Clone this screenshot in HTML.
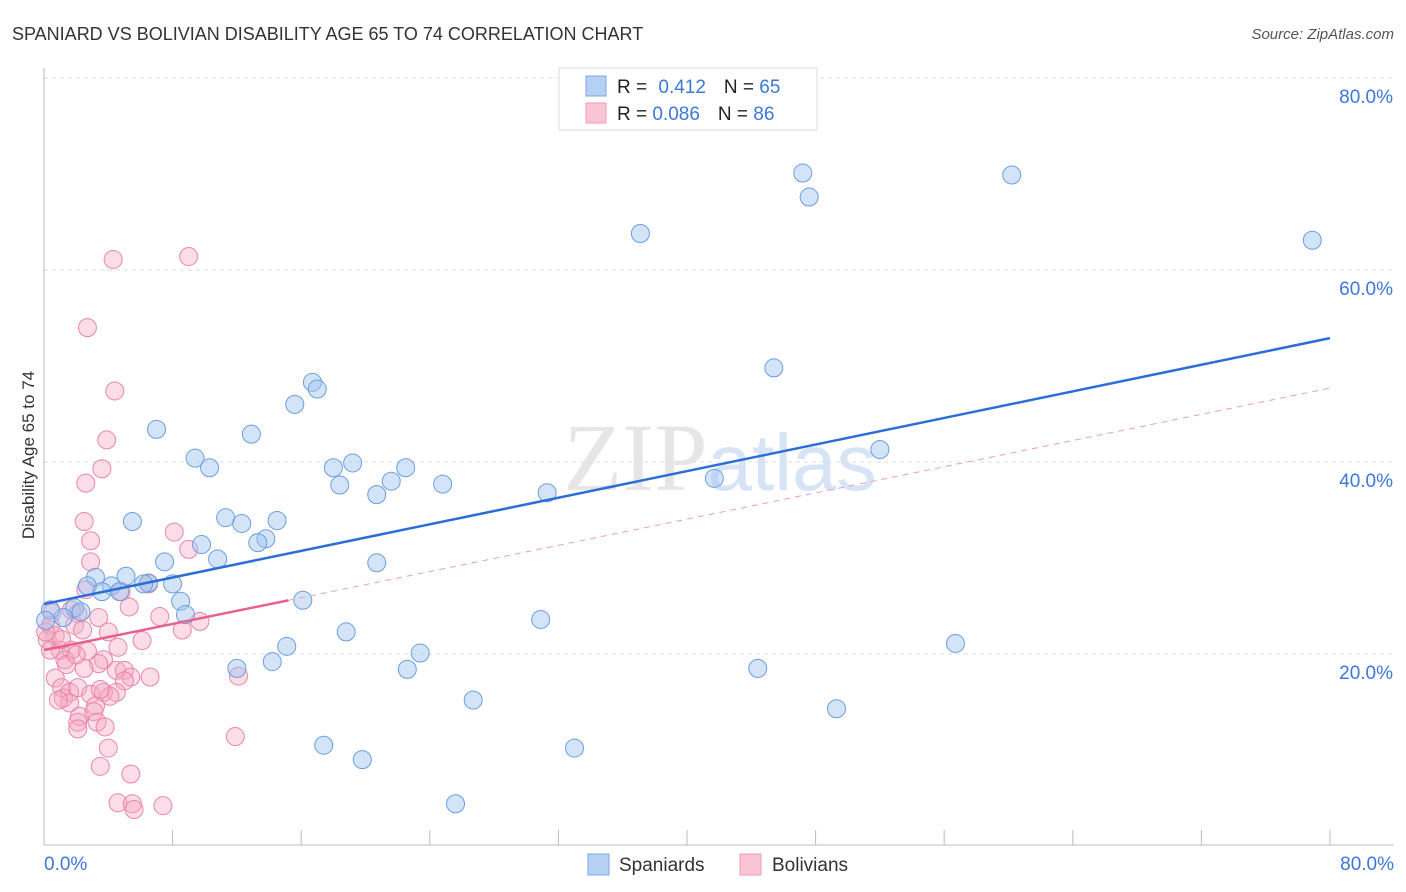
<!DOCTYPE html>
<html><head><meta charset="utf-8"><style>
body{margin:0;background:#fff;font-family:"Liberation Sans",sans-serif}
svg{display:block}
</style></head><body>
<svg id="c" width="1406" height="892">
<text x="12" y="40" font-size="18" fill="#333">SPANIARD VS BOLIVIAN DISABILITY AGE 65 TO 74 CORRELATION CHART</text>
<text x="1394" y="39" font-size="15" fill="#555" text-anchor="end" font-style="italic">Source: ZipAtlas.com</text>
<text x="720" y="490" font-size="96" fill="#e6e6e6" text-anchor="middle" font-family="Liberation Serif">ZIP<tspan fill="#d6e4f5" font-family="Liberation Sans" font-size="80">atlas</tspan></text>
<text transform="translate(34,455) rotate(-90)" font-size="17" fill="#333" text-anchor="middle">Disability Age 65 to 74</text>
<g id="grid"></g><g id="marks"></g>
<g>
<rect x="559" y="68" width="258" height="62" fill="#fff" stroke="#ddd"/>
<rect x="586" y="76" width="20" height="20" fill="#b7d1f3" stroke="#7aa7e3"/>
<rect x="586" y="103" width="20" height="20" fill="#f9c5d5" stroke="#ef9ab5"/>
<text x="617" y="93" font-size="19" fill="#222">R = <tspan fill="#3b78d8" dx="6">0.412</tspan><tspan dx="18" fill="#222">N = </tspan><tspan fill="#3b78d8">65</tspan></text>
<text x="617" y="120" font-size="19" fill="#222">R = <tspan fill="#3b78d8">0.086</tspan><tspan dx="18" fill="#222">N = </tspan><tspan fill="#3b78d8">86</tspan></text>
</g>
<g>
<rect x="588" y="854" width="21" height="21" fill="#b7d1f3" stroke="#7aa7e3"/>
<text x="619" y="871" font-size="19" fill="#333">Spaniards</text>
<rect x="740" y="854" width="21" height="21" fill="#f9c5d5" stroke="#ef9ab5"/>
<text x="772" y="871" font-size="19" fill="#333">Bolivians</text>
</g>
</svg>
<script>
const yTicks=[20,40,60,80];
const xTickLabels=["0.0%","80.0%"];
const blueX=[47.2,47.6,60.2,37.1,78.9,45.4,16.7,17.0,15.6,7.0,12.9,52.0,9.4,10.3,18.0,19.2,18.4,21.6,22.5,20.7,24.8,31.3,41.7,11.3,12.3,5.5,14.5,13.8,13.3,9.8,10.8,7.5,20.7,5.1,3.2,2.7,4.2,6.5,8.0,4.7,3.6,6.2,8.5,8.8,16.1,1.9,2.3,1.2,0.4,0.1,30.9,18.8,56.7,15.1,23.4,12.0,14.2,22.6,44.4,26.7,49.3,17.4,33.0,19.8,25.6];
const blueY=[70.1,67.6,69.9,63.8,63.1,49.8,48.3,47.6,46.0,43.4,42.9,41.3,40.4,39.4,39.4,39.9,37.6,38.0,39.4,36.6,37.7,36.8,38.3,34.2,33.6,33.8,33.9,32.0,31.6,31.4,29.9,29.6,29.5,28.1,28.0,27.1,27.1,27.4,27.3,26.5,26.5,27.3,25.5,24.1,25.6,24.8,24.4,23.8,24.6,23.5,23.6,22.3,21.1,20.8,20.1,18.5,19.2,18.4,18.5,15.2,14.3,10.5,10.2,9.0,4.4];
const pinkX=[4.3,9.0,2.7,4.4,3.9,3.6,2.6,2.5,8.1,9.0,2.9,2.9,2.6,4.8,6.5,5.3,7.2,9.7,3.4,8.6,4.0,2.1,0.5,0.4,0.7,0.2,1.0,1.7,2.7,3.7,1.3,6.1,4.6,1.9,0.7,1.1,1.6,2.1,3.4,2.5,4.5,5.0,5.4,6.6,12.1,5.0,1.2,1.6,2.9,3.7,4.5,2.2,2.1,3.2,4.1,3.1,3.3,3.8,2.1,4.0,11.9,3.5,5.4,4.6,5.5,7.4,5.6,3.5,1.4,2.0,0.9,0.4,0.1,1.1,2.4,1.7];
const pinkY=[61.1,61.4,54.0,47.4,42.3,39.3,37.8,33.8,32.7,30.9,31.8,29.6,26.7,26.5,27.3,24.9,23.9,23.4,23.8,22.5,22.3,24.2,24.3,23.0,21.9,21.5,20.4,20.4,20.3,19.4,19.4,21.4,20.7,23.0,17.5,16.5,16.0,16.5,19.0,18.5,18.3,18.3,17.6,17.6,17.7,17.2,15.4,14.9,15.8,16.0,16.0,13.5,12.9,14.6,15.6,14.0,12.9,12.4,12.2,10.2,11.4,8.3,7.5,4.5,4.4,4.2,3.8,16.3,18.9,19.9,15.2,20.4,22.3,21.5,22.5,24.6];
const blueTrend=[25.2,52.9];
const pinkTrend=[20.4,47.7];
const pinkSolidEnd=15.2;
const X=v=>44+v*16.075, Y=v=>846-v*9.6;
const NS="http://www.w3.org/2000/svg";
function mk(t,a,p){const e=document.createElementNS(NS,t);for(const k in a)e.setAttribute(k,a[k]);p.appendChild(e);return e;}
const g=document.getElementById('grid'), m=document.getElementById('marks');
yTicks.forEach(v=>{
 const l=mk('line',{x1:44,x2:1394,y1:Y(v),y2:Y(v),stroke:'#ddd','stroke-dasharray':'4,4'},g);
 
 
 const t=mk('text',{x:1393,y:Y(v)+25,'font-size':19,fill:'#3b78d8','text-anchor':'end'},g);
 t.textContent=v.toFixed(1)+'%';
 
 
});
const ax=mk('line',{x1:44,x2:1394,y1:845,y2:845,stroke:'#bbb'},g);


const ay=mk('line',{x1:44,x2:44,y1:68,y2:845,stroke:'#bbb'},g);


for(let i=1;i<=10;i++){const t=mk('line',{x1:X(i*8),x2:X(i*8),y1:830,y2:845,stroke:'#bbb'},g);
 
 }
[[0,'start',44],[80,'end',1394]].forEach((d,i)=>{const t=mk('text',{x:d[2],y:870,'font-size':19,fill:'#3b78d8','text-anchor':d[1]},g);t.textContent=xTickLabels[i];
 
 });
pinkX.forEach((x,i)=>{const c=mk('circle',{cx:X(x),cy:Y(pinkY[i]),r:9,fill:'rgba(246,168,195,0.4)',stroke:'#ea86a8','stroke-width':1},m);
 
 });
blueX.forEach((x,i)=>{const c=mk('circle',{cx:X(x),cy:Y(blueY[i]),r:9,fill:'rgba(160,196,240,0.45)',stroke:'#6a9ee0','stroke-width':1},m);
 
 });
const pk=v=>pinkTrend[0]+(pinkTrend[1]-pinkTrend[0])*v/80;
const pd=mk('line',{x1:X(pinkSolidEnd),y1:Y(pk(pinkSolidEnd)),x2:X(80),y2:Y(pinkTrend[1]),stroke:'#eaa0b8','stroke-width':1,'stroke-dasharray':'6,5'},m);


const ps=mk('line',{x1:X(0),y1:Y(pinkTrend[0]),x2:X(pinkSolidEnd),y2:Y(pk(pinkSolidEnd)),stroke:'#e8608e','stroke-width':2.5},m);


const bl=mk('line',{x1:X(0),y1:Y(blueTrend[0]),x2:X(80),y2:Y(blueTrend[1]),stroke:'#2b6fd6','stroke-width':2.5},m);


</script>
</body></html>
